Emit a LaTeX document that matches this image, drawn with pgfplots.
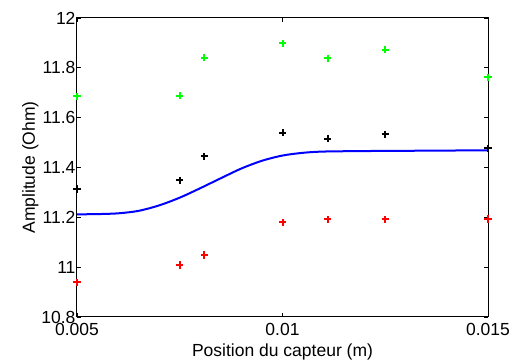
\documentclass[border=0pt]{standalone}
\usepackage{fontspec}
\setmainfont{Liberation Sans}
\usepackage{pgfplots}
\pgfplotsset{compat=1.18}
\begin{document}
\begin{tikzpicture}
\begin{axis}[
  scale only axis,
  width=411pt, height=299pt,
  xmin=0.005, xmax=0.015, ymin=10.8, ymax=12,
  scaled x ticks=false,
  xtick={0.005,0.01,0.015},
  xticklabels={0.005,0.01,0.015},
  ytick={10.8,11,11.2,11.4,11.6,11.8,12},
  yticklabels={10.8,11,11.2,11.4,11.6,11.8,12},
  tick align=inside,
  tick pos=both,
  major tick length=4pt,
  axis line style={line width=1pt},
  tick style={line width=0.8pt, black},
  clip=false,
  font=\fontsize{17.5}{20}\selectfont,
  /pgf/number format/assume math mode=true,
  xlabel={Position du capteur (m)},
  ylabel={Amplitude (Ohm)},
  xticklabel style={yshift=-3pt},
  yticklabel style={xshift=2pt},
  xlabel style={yshift=-1pt},
  ylabel style={yshift=-4pt},
]
\addplot[blue, line width=2pt, smooth] coordinates {
(0.005,11.212) (0.0055,11.213) (0.006,11.216) (0.0065,11.226) (0.007,11.248)
(0.0075,11.279) (0.008,11.317) (0.0085,11.357) (0.009,11.396)
(0.0095,11.427) (0.01,11.448) (0.0105,11.459) (0.011,11.464)
(0.012,11.466) (0.013,11.467) (0.014,11.468) (0.015,11.469)
};
\addplot[only marks, mark=+, mark size=3.6pt, line width=2pt, color={rgb,1:red,0;green,1;blue,0}] coordinates {
(0.005,11.686) (0.0075,11.688) (0.0081,11.840) (0.01,11.898) (0.0111,11.838) (0.0125,11.873) (0.015,11.762)
};
\addplot[only marks, mark=+, mark size=3.6pt, line width=2pt, black] coordinates {
(0.005,11.314) (0.0075,11.349) (0.0081,11.445) (0.01,11.540) (0.0111,11.516) (0.0125,11.533) (0.015,11.477)
};
\addplot[only marks, mark=+, mark size=3.6pt, line width=2pt, color={rgb,1:red,1;green,0;blue,0}] coordinates {
(0.005,10.939) (0.0075,11.009) (0.0081,11.049) (0.01,11.180) (0.0111,11.192) (0.0125,11.192) (0.015,11.193)
};
\end{axis}
\pgfresetboundingbox
\path[use as bounding box] ([shift={(-77pt,-46pt)}]current axis.south west) rectangle ([shift={(30pt,18pt)}]current axis.north east);
\end{tikzpicture}
\end{document}
